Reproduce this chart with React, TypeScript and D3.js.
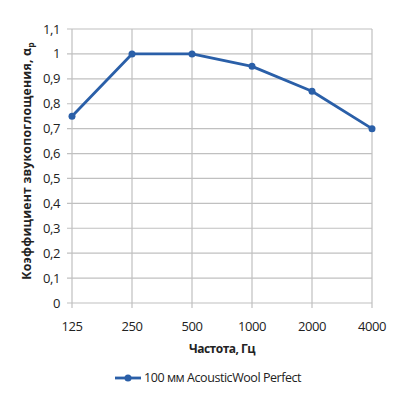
import React from "react";
import * as d3 from "d3";

const categories = ["125", "250", "500", "1000", "2000", "4000"];
const values = [0.75, 1.0, 1.0, 0.95, 0.85, 0.7];
const yTicks = [0, 0.1, 0.2, 0.3, 0.4, 0.5, 0.6, 0.7, 0.8, 0.9, 1.0, 1.1];
const seriesName = "100 мм AcousticWool Perfect";
const xTitle = "Частота, Гц";
const yTitle = "Коэффициент звукопоглощения, α";

export default function App() {
  const W = 404, H = 404;
  const left = 72, right = 372, top = 29, bottom = 303;
  const x = d3.scalePoint<string>().domain(categories).range([left, right]);
  const y = d3.scaleLinear().domain([0, 1.1]).range([bottom, top]);
  const line = d3.line<number>().x((_, i) => x(categories[i])!).y((d) => y(d));
  const fmt = (v: number) => (Math.round(v * 10) / 10).toString().replace(".", ",");
  const font = "'Open Sans', sans-serif";
  const color = "#2a5fa8";
  const grid = "#c0c0c0";
  return (
    <svg width={W} height={H} style={{ position: "absolute", left: 0, top: 0, background: "#fff" }}>
      {yTicks.map((t) => (
        <g key={t}>
          <line x1={left - 5} x2={right} y1={y(t)} y2={y(t)} stroke={grid} strokeWidth={1.2} />
          <text x={60} y={y(t)} dy="0.35em" textAnchor="end" fontFamily={font} fontSize={13} fill="#222" letterSpacing={-0.4}>
            {fmt(t)}
          </text>
        </g>
      ))}
      {categories.map((c) => (
        <g key={c}>
          <line x1={x(c)} x2={x(c)} y1={top} y2={bottom + 5} stroke={grid} strokeWidth={1.2} />
          <text x={x(c)} y={326} dy="0.35em" textAnchor="middle" fontFamily={font} fontSize={13} fill="#222" letterSpacing={-0.4}>
            {c}
          </text>
        </g>
      ))}
      <path d={line(values)!} fill="none" stroke={color} strokeWidth={2.8} strokeLinejoin="round" />
      {values.map((v, i) => (
        <circle key={i} cx={x(categories[i])} cy={y(v)} r={3.5} fill={color} />
      ))}
      <text x={222} y={349} dy="0.35em" textAnchor="middle" fontFamily={font} fontSize={12} fontWeight="bold" fill="#222" letterSpacing={-0.5}>
        {xTitle}
      </text>
      <text
        transform={`translate(27,161) rotate(-90)`}
        textAnchor="middle"
        dy="0.35em"
        fontFamily={font}
        fontSize={12.3}
        fontWeight="bold"
        fill="#222"
        letterSpacing={0.2}
      >
        {yTitle}
        <tspan fontSize={8.5} dy={3}>p</tspan>
      </text>
      <line x1={115} x2={141} y1={378} y2={378} stroke={color} strokeWidth={2.8} />
      <circle cx={128} cy={378} r={3.5} fill={color} />
      <text x={144} y={378} dy="0.35em" fontFamily={font} fontSize={12.5} fill="#222" letterSpacing={-0.45}>
        {seriesName}
      </text>
    </svg>
  );
}
